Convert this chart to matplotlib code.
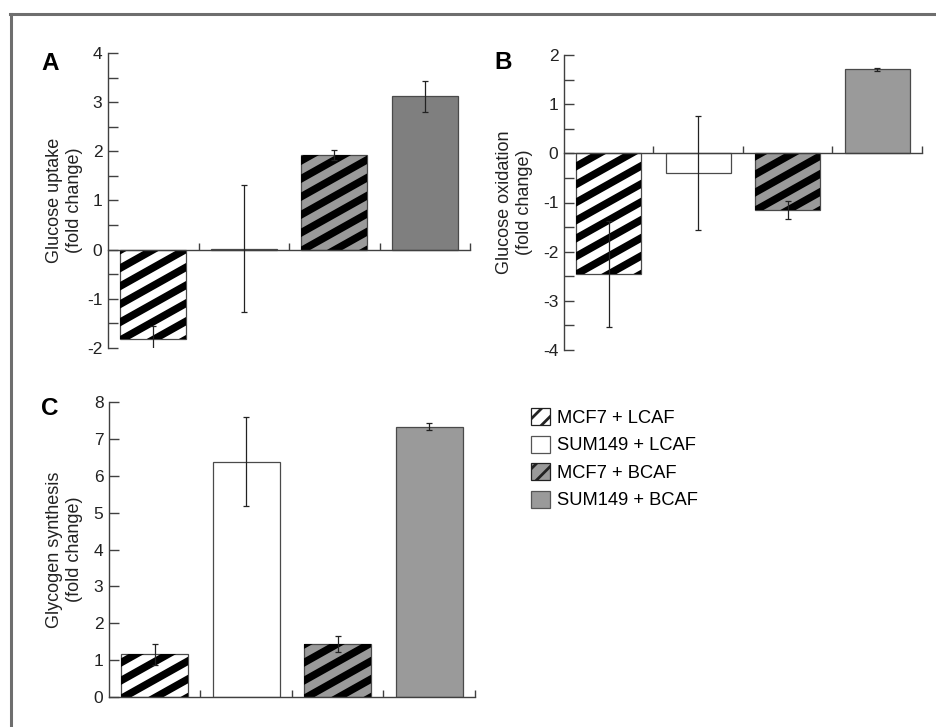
import numpy as np
import matplotlib
matplotlib.use('Agg')
import matplotlib.pyplot as plt
from matplotlib.collections import LineCollection
from matplotlib.patches import Patch
from matplotlib.lines import Line2D

plt.rcParams['font.family'] = ['Liberation Sans', 'DejaVu Sans']
plt.rcParams['axes.unicode_minus'] = False
plt.rcParams['hatch.linewidth'] = 2.0

# data
groups = ['MCF7 + LCAF', 'SUM149 + LCAF', 'MCF7 + BCAF', 'SUM149 + BCAF']
uptake = [-1.82, 0.02, 1.93, 3.12]
uptake_err = [0.27, 1.29, 0.10, 0.31]
oxidation = [-2.45, -0.40, -1.15, 1.71]
oxidation_err = [1.08, 1.15, 0.18, 0.03]
glycogen = [1.16, 6.38, 1.44, 7.33]
glycogen_err = [0.29, 1.20, 0.22, 0.10]

GRAY = '#9a9a9a'
DARK = '#7f7f7f'
EDGE = '#4a4a4a'
AXC = '#404040'

DPI = 100
fig = plt.figure(figsize=(9.37, 7.27), dpi=DPI)
W, H = 937, 727


def add_ax(x0, x1, ytop, ybot):
    return fig.add_axes([x0 / W, 1 - ybot / H, (x1 - x0) / W, (ybot - ytop) / H])


def stripes(ax, bar, period=18, slope=0.56, lw_px=7.5):
    # diagonal black stripes clipped to the bar, built in pixel space
    bb = bar.get_window_extent()
    x0, y0, x1, y1 = bb.x0, bb.y0, bb.x1, bb.y1
    w = x1 - x0
    segs = []
    c = y0 - slope * w - period
    while c < y1 + period:
        pts = np.array([[x0 - 2, c - 2 * slope], [x1 + 2, c + slope * (w + 2)]])
        segs.append(ax.transData.inverted().transform(pts))
        c += period
    lc = LineCollection(segs, colors='black', linewidths=lw_px * 72 / DPI,
                        zorder=2.5)
    ax.add_collection(lc)
    lc.set_clip_path(bar)


def panel(ax, vals, errs, ylim, label, label_x, minor, fill4, letter, letter_xy):
    x = np.arange(len(vals))
    fills = ['white', 'white', GRAY, fill4]
    bars = ax.bar(x, vals, width=0.73, color=fills, edgecolor=EDGE,
                  linewidth=0.9, zorder=2)
    ax.set_xlim(-0.5, 3.5)
    ax.set_ylim(*ylim)
    for i in (0, 2):
        stripes(ax, bars[i])
    ax.errorbar(x, vals, yerr=errs, fmt='none', ecolor='#222222',
                elinewidth=0.9, capsize=2.5, capthick=0.9, zorder=3)
    ax.spines['top'].set_visible(False)
    ax.spines['right'].set_visible(False)
    ax.spines['bottom'].set_position(('data', 0))
    for s in ('left', 'bottom'):
        ax.spines[s].set_color(AXC)
        ax.spines[s].set_linewidth(1.0)
    ax.set_xticks([0.5, 1.5, 2.5, 3.5])
    ax.set_xticklabels([])
    ax.tick_params(axis='x', direction='in', length=5, width=1.0, color=AXC)
    ax.set_yticks(np.arange(ylim[0], ylim[1] + 1, 1))
    if minor:
        ax.set_yticks(np.arange(ylim[0] + 0.5, ylim[1], 1.0), minor=True)
    ax.tick_params(axis='y', which='both', direction='in', length=7,
                   width=1.0, color=AXC, labelsize=12.5, pad=4,
                   labelcolor='#222222')
    ax.set_ylabel(label, fontsize=13, color='#222222', linespacing=1.25)
    ax.yaxis.set_label_coords(label_x, 0.5)
    ax.set_facecolor('none')
    fig.text(letter_xy[0] / W, 1 - letter_xy[1] / H, letter, fontsize=17.5,
             fontweight='bold', ha='left', va='baseline')


axA = add_ax(108, 470, 53, 348)
panel(axA, uptake, uptake_err, (-2, 4), 'Glucose uptake\n(fold change)',
      -0.068, True, DARK, 'A', (41, 70))

axB = add_ax(564, 922, 55, 350)
panel(axB, oxidation, oxidation_err, (-4, 2), 'Glucose oxidation\n(fold change)',
      -0.086, True, GRAY, 'B', (494, 69))

axC = add_ax(109, 475, 402, 697)
panel(axC, glycogen, glycogen_err, (0, 8), 'Glycogen synthesis\n(fold change)',
      -0.070, False, GRAY, 'C', (41, 415))

handles = [Patch(facecolor='white', edgecolor='#222222', hatch='//', linewidth=0.9),
           Patch(facecolor='white', edgecolor='#555555', linewidth=0.9),
           Patch(facecolor=GRAY, edgecolor='#222222', hatch='//', linewidth=0.9),
           Patch(facecolor=GRAY, edgecolor='#555555', linewidth=0.9)]
fig.legend(handles, groups, loc='upper left',
           bbox_to_anchor=(531 / W, 1 - 408 / H), frameon=False,
           fontsize=13.2, handlelength=1.05, handleheight=1.05,
           handletextpad=0.35, labelspacing=0.48, borderpad=0,
           borderaxespad=0)

# outer frame lines (top and left only)
fig.add_artist(Line2D([10 / W, 1], [1 - 14 / H, 1 - 14 / H], color='#6e6e6e',
                      linewidth=2.2))
fig.add_artist(Line2D([11.5 / W, 11.5 / W], [0, 1 - 14 / H], color='#6e6e6e',
                      linewidth=2.2))

fig.savefig('out.png', dpi=DPI)
